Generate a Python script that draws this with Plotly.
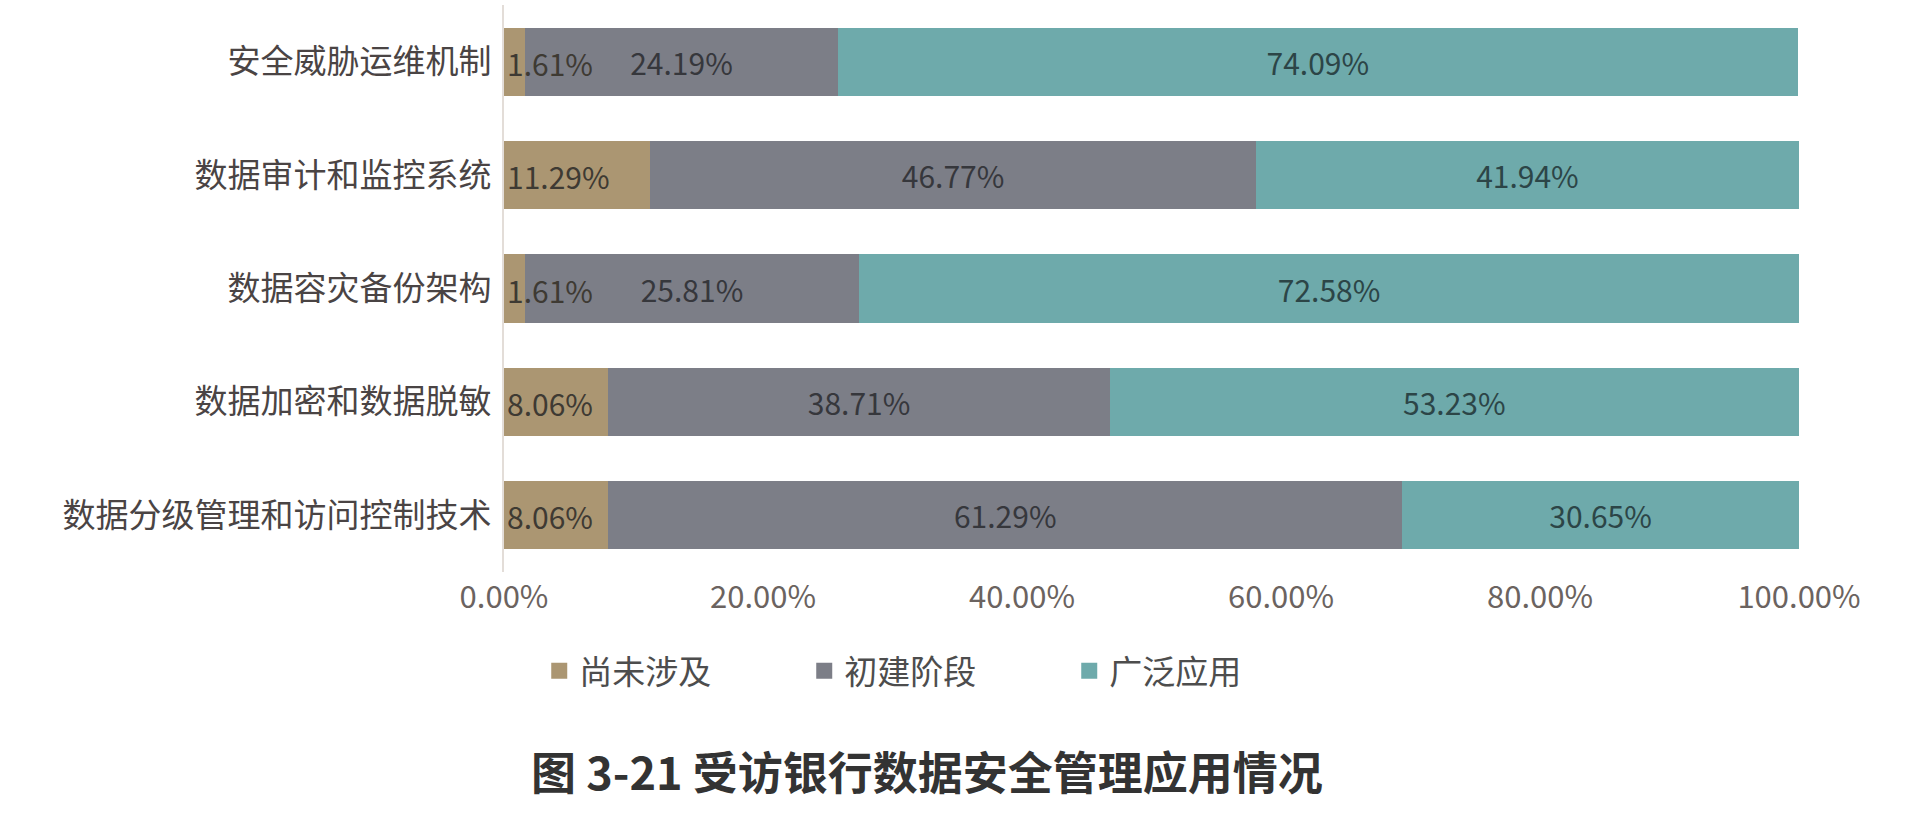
import plotly.graph_objects as go

categories = ["安全威胁运维机制", "数据审计和监控系统", "数据容灾备份架构", "数据加密和数据脱敏", "数据分级管理和访问控制技术"]
series_names = ["尚未涉及", "初建阶段", "广泛应用"]
not_yet = [1.61, 11.29, 1.61, 8.06, 8.06]
initial = [24.19, 46.77, 25.81, 38.71, 61.29]
wide = [74.09, 41.94, 72.58, 53.23, 30.65]
tick_vals = [0, 20, 40, 60, 80, 100]
tick_text = ["0.00%", "20.00%", "40.00%", "60.00%", "80.00%", "100.00%"]
title_text = "图 3-21 受访银行数据安全管理应用情况"

colors = ["#ab9672", "#7c7e87", "#6eaaab"]
text_colors = ["#3e3a33", "#36373c", "#2c4547"]
FONT = "Noto Sans CJK SC"

fig = go.Figure()
all_vals = [not_yet, initial, wide]
for i, (name, vals, col, tcol) in enumerate(zip(series_names, all_vals, colors, text_colors)):
    fig.add_trace(go.Bar(
        y=categories, x=vals, name=name, orientation="h",
        marker=dict(color=col, line=dict(width=0)),
        width=0.6, showlegend=False,
        text=None if i == 0 else [f"{v:.2f}%" for v in vals],
        textposition="inside", insidetextanchor="middle", textangle=0,
        constraintext="none", cliponaxis=False,
        textfont=dict(family=FONT, size=30, color=tcol),
        hoverinfo="x+y+name",
    ))

# labels of the first (narrow) segment drawn on top so they are not hidden by the next segment
for cat, v in zip(categories, not_yet):
    fig.add_annotation(
        x=0, y=cat, xref="x", yref="y", text=f"{v:.2f}%", showarrow=False,
        xanchor="left", yanchor="middle", xshift=1, yshift=-1,
        font=dict(family=FONT, size=30, color=text_colors[0]),
    )

# legend entries with larger square swatches
for name, col in zip(series_names, colors):
    fig.add_trace(go.Scatter(
        x=[None], y=[None], mode="markers", name=name,
        marker=dict(symbol="square", size=16, color=col),
        showlegend=True,
    ))

fig.update_layout(
    width=1919, height=827,
    barmode="stack",
    margin=dict(l=504, r=120, t=5, b=255),
    paper_bgcolor="white", plot_bgcolor="white",
    font=dict(family=FONT),
    legend=dict(orientation="h", xref="container", yref="container",
                x=0.281, y=0.189, xanchor="left", yanchor="middle",
                font=dict(family=FONT, size=33, color="#4d4d4d"),
                entrywidth=220, traceorder="normal", itemsizing="trace"),
    title=dict(text=title_text, xref="container", yref="container",
               x=0.483, y=0.064, xanchor="center", yanchor="middle",
               font=dict(family=FONT, size=45, color="#333333", weight="bold")),
)
fig.update_xaxes(range=[0, 100], tickvals=tick_vals, ticktext=tick_text,
                 showgrid=False, zeroline=False, showline=False,
                 tickfont=dict(family=FONT, size=31, color="#6b6360"),
                 ticklabelstandoff=4)
fig.update_yaxes(categoryorder="array", categoryarray=categories, autorange="reversed",
                 showgrid=False, showline=True, linecolor="#e3ddd8", linewidth=2,
                 tickfont=dict(family=FONT, size=33, color="#4a4444"),
                 ticklabelstandoff=4)

fig.write_html("out.html")
